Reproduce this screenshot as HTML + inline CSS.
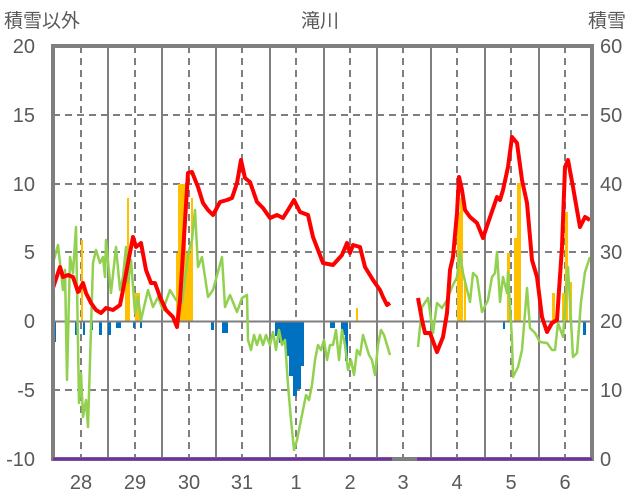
<!DOCTYPE html><html><head><meta charset="utf-8"><style>body{margin:0;background:#fff}svg{display:block}text{font-family:"Liberation Sans","Noto Sans CJK JP",sans-serif;fill:#595959}</style></head><body>
<svg width="636" height="501" viewBox="0 0 636 501">
<g stroke="#7f7f7f" stroke-width="2" stroke-dasharray="7,5">
<line x1="53" y1="115" x2="592" y2="115"/><line x1="53" y1="184" x2="592" y2="184"/><line x1="53" y1="252" x2="592" y2="252"/><line x1="53" y1="390" x2="592" y2="390"/>
<line x1="81" y1="46" x2="81" y2="459"/><line x1="135" y1="46" x2="135" y2="459"/><line x1="189" y1="46" x2="189" y2="459"/><line x1="242" y1="46" x2="242" y2="459"/><line x1="296" y1="46" x2="296" y2="459"/><line x1="350" y1="46" x2="350" y2="459"/><line x1="403" y1="46" x2="403" y2="459"/><line x1="457" y1="46" x2="457" y2="459"/><line x1="511" y1="46" x2="511" y2="459"/><line x1="565" y1="46" x2="565" y2="459"/>
</g>
<g stroke="#7f7f7f" stroke-width="2">
<line x1="108" y1="46" x2="108" y2="459"/><line x1="162" y1="46" x2="162" y2="459"/><line x1="216" y1="46" x2="216" y2="459"/><line x1="270" y1="46" x2="270" y2="459"/><line x1="324" y1="46" x2="324" y2="459"/><line x1="377" y1="46" x2="377" y2="459"/><line x1="431" y1="46" x2="431" y2="459"/><line x1="485" y1="46" x2="485" y2="459"/><line x1="539" y1="46" x2="539" y2="459"/>
</g>
<g fill="#ffc000">
<rect x="81" y="240" width="2" height="81"/><rect x="125" y="253" width="5" height="68"/><rect x="127" y="198" width="2" height="123"/><rect x="135" y="293" width="5" height="28"/>
<rect x="176" y="253" width="17" height="68"/><rect x="178" y="184" width="8" height="137"/><rect x="191" y="198" width="2" height="123"/><rect x="356" y="308" width="2" height="13"/>
<rect x="457" y="212" width="3" height="109"/><rect x="460" y="198" width="3" height="123"/><rect x="464" y="283" width="2" height="38"/>
<rect x="507" y="253" width="3" height="68"/><rect x="514" y="238" width="3" height="83"/><rect x="517" y="183" width="4" height="138"/>
<rect x="552" y="293" width="3" height="28"/><rect x="562" y="293" width="3" height="28"/><rect x="565" y="212" width="3" height="109"/><rect x="569" y="282" width="3" height="39"/>
</g>
<g fill="#0070c0">
<rect x="53" y="321" width="3" height="21"/><rect x="75" y="321" width="2" height="14"/><rect x="83" y="321" width="2" height="14"/><rect x="91" y="321" width="2" height="9"/><rect x="99" y="321" width="3" height="14"/><rect x="108" y="321" width="3" height="14"/><rect x="116" y="321" width="5" height="7"/><rect x="133" y="321" width="2" height="7"/><rect x="140" y="321" width="2" height="7"/>
<rect x="211" y="321" width="3" height="9"/><rect x="222" y="321" width="6" height="12"/>
<rect x="275" y="321" width="4" height="15"/><rect x="279" y="321" width="6" height="22"/><rect x="285" y="321" width="4" height="35"/><rect x="289" y="321" width="4" height="55"/><rect x="293" y="321" width="4" height="75"/><rect x="297" y="321" width="4" height="68"/><rect x="301" y="321" width="3" height="45"/>
<rect x="330" y="321" width="5" height="7"/><rect x="341" y="321" width="6" height="14"/><rect x="345" y="321" width="3" height="40"/><rect x="503" y="321" width="2" height="8"/><rect x="583" y="321" width="3" height="14"/>
</g>
<line x1="53" y1="321.5" x2="592" y2="321.5" stroke="#7f7f7f" stroke-width="2"/>
<polyline fill="none" stroke="#92d050" stroke-width="2.5" stroke-linejoin="round" points="53,263 58,245 63,290 65,270 67,380 70,257 73,273 76,227 79,403 81,373 83,417 86,400 88,427 93,263 96,250 100,263 103,257 105,277 106,240 111,293 116,247 120,290 123,277 126,247 128,283 131,260 135,313 138,297 141,320 148,290 153,307 158,297 163,310 170,290 176,300 182,303 188,255 192,240 195,210 198,267 202,257 208,297 213,290 222,257 225,307 230,295 237,312 242,298 247,295 248,340 251,350 254,335 257,345 260,335 263,345 266,335 270,345 273,332 276,350 279,330 282,345 285,340 288,385 291,420 294,450 297,440 300,425 303,410 306,395 309,400 312,385 315,360 318,345 321,350 324,340 327,360 330,345 333,345 336,330 339,360 342,330 345,345 348,370 351,360 354,375 357,350 360,355 363,335 366,345 369,355 372,360 375,375 378,345 381,330 384,335 387,345 390,355"/>
<polyline fill="none" stroke="#92d050" stroke-width="2.5" stroke-linejoin="round" points="418,347 422,307 428,298 433,333 437,303 442,308 447,300 452,287 457,277 460,252 463,273 470,302 473,273 477,277 482,312 488,300 492,277 495,273 497,252 500,302 503,277 507,293 508,272 512,340 513,377 518,367 522,350 527,288 530,328 535,333 540,342 547,343 552,350 555,350 558,323 563,337 568,267 573,357 577,353 581,302 585,272 590,257"/>
<polyline fill="none" stroke="#ff0000" stroke-width="4" stroke-linejoin="round" points="53,288 60,267 63,277 68,275 73,277 78,292 83,283 86,293 91,303 96,310 101,313 106,308 113,310 120,305 123,290 128,263 133,237 136,247 141,243 146,270 151,283 155,283 160,297 166,310 173,317 177,327 180,300 183,253 188,173 192,172 198,187 203,203 208,210 213,215 220,202 227,200 232,198 237,183 241,160 245,178 250,182 257,202 263,208 270,218 277,215 283,218 288,210 294,200 300,212 308,215 313,237 318,250 323,263 333,265 342,255 347,243 350,253 353,245 360,247 365,267 373,280 380,290 383,297 387,305 390,303"/>
<polyline fill="none" stroke="#ff0000" stroke-width="4" stroke-linejoin="round" points="418,298 422,320 425,333 430,333 437,352 443,337 447,313 450,270 453,257 457,213 459,177 462,190 465,210 470,217 477,223 483,238 488,223 497,197 500,200 503,190 508,167 512,137 517,143 522,180 527,203 532,260 537,277 542,317 547,332 552,323 557,320 562,247 565,167 568,160 573,187 577,210 580,227 585,217 590,220"/>
<rect x="53" y="46" width="539" height="413" fill="none" stroke="#7f7f7f" stroke-width="4"/>
<line x1="53" y1="459" x2="392" y2="459" stroke="#7030a0" stroke-width="3"/>
<line x1="417" y1="459" x2="592" y2="459" stroke="#7030a0" stroke-width="3"/>
<g font-size="20" text-anchor="end">
<text x="35" y="53">20</text><text x="35" y="122">15</text><text x="35" y="191">10</text><text x="35" y="259">5</text><text x="35" y="328">0</text><text x="35" y="397">-5</text><text x="35" y="466">-10</text>
</g>
<g font-size="20" text-anchor="start">
<text x="600" y="53">60</text><text x="600" y="122">50</text><text x="600" y="191">40</text><text x="600" y="259">30</text><text x="600" y="328">20</text><text x="600" y="397">10</text><text x="600" y="466">0</text>
</g>
<g font-size="20" text-anchor="middle">
<text x="81" y="489">28</text><text x="135" y="489">29</text><text x="189" y="489">30</text><text x="242" y="489">31</text><text x="296" y="489">1</text><text x="350" y="489">2</text><text x="403" y="489">3</text><text x="457" y="489">4</text><text x="511" y="489">5</text><text x="565" y="489">6</text>
</g>
<text x="4" y="27" font-size="19">積雪以外</text>
<text x="320" y="27" font-size="19" text-anchor="middle">滝川</text>
<text x="588" y="27" font-size="19">積雪</text>
</svg>
</body></html>
